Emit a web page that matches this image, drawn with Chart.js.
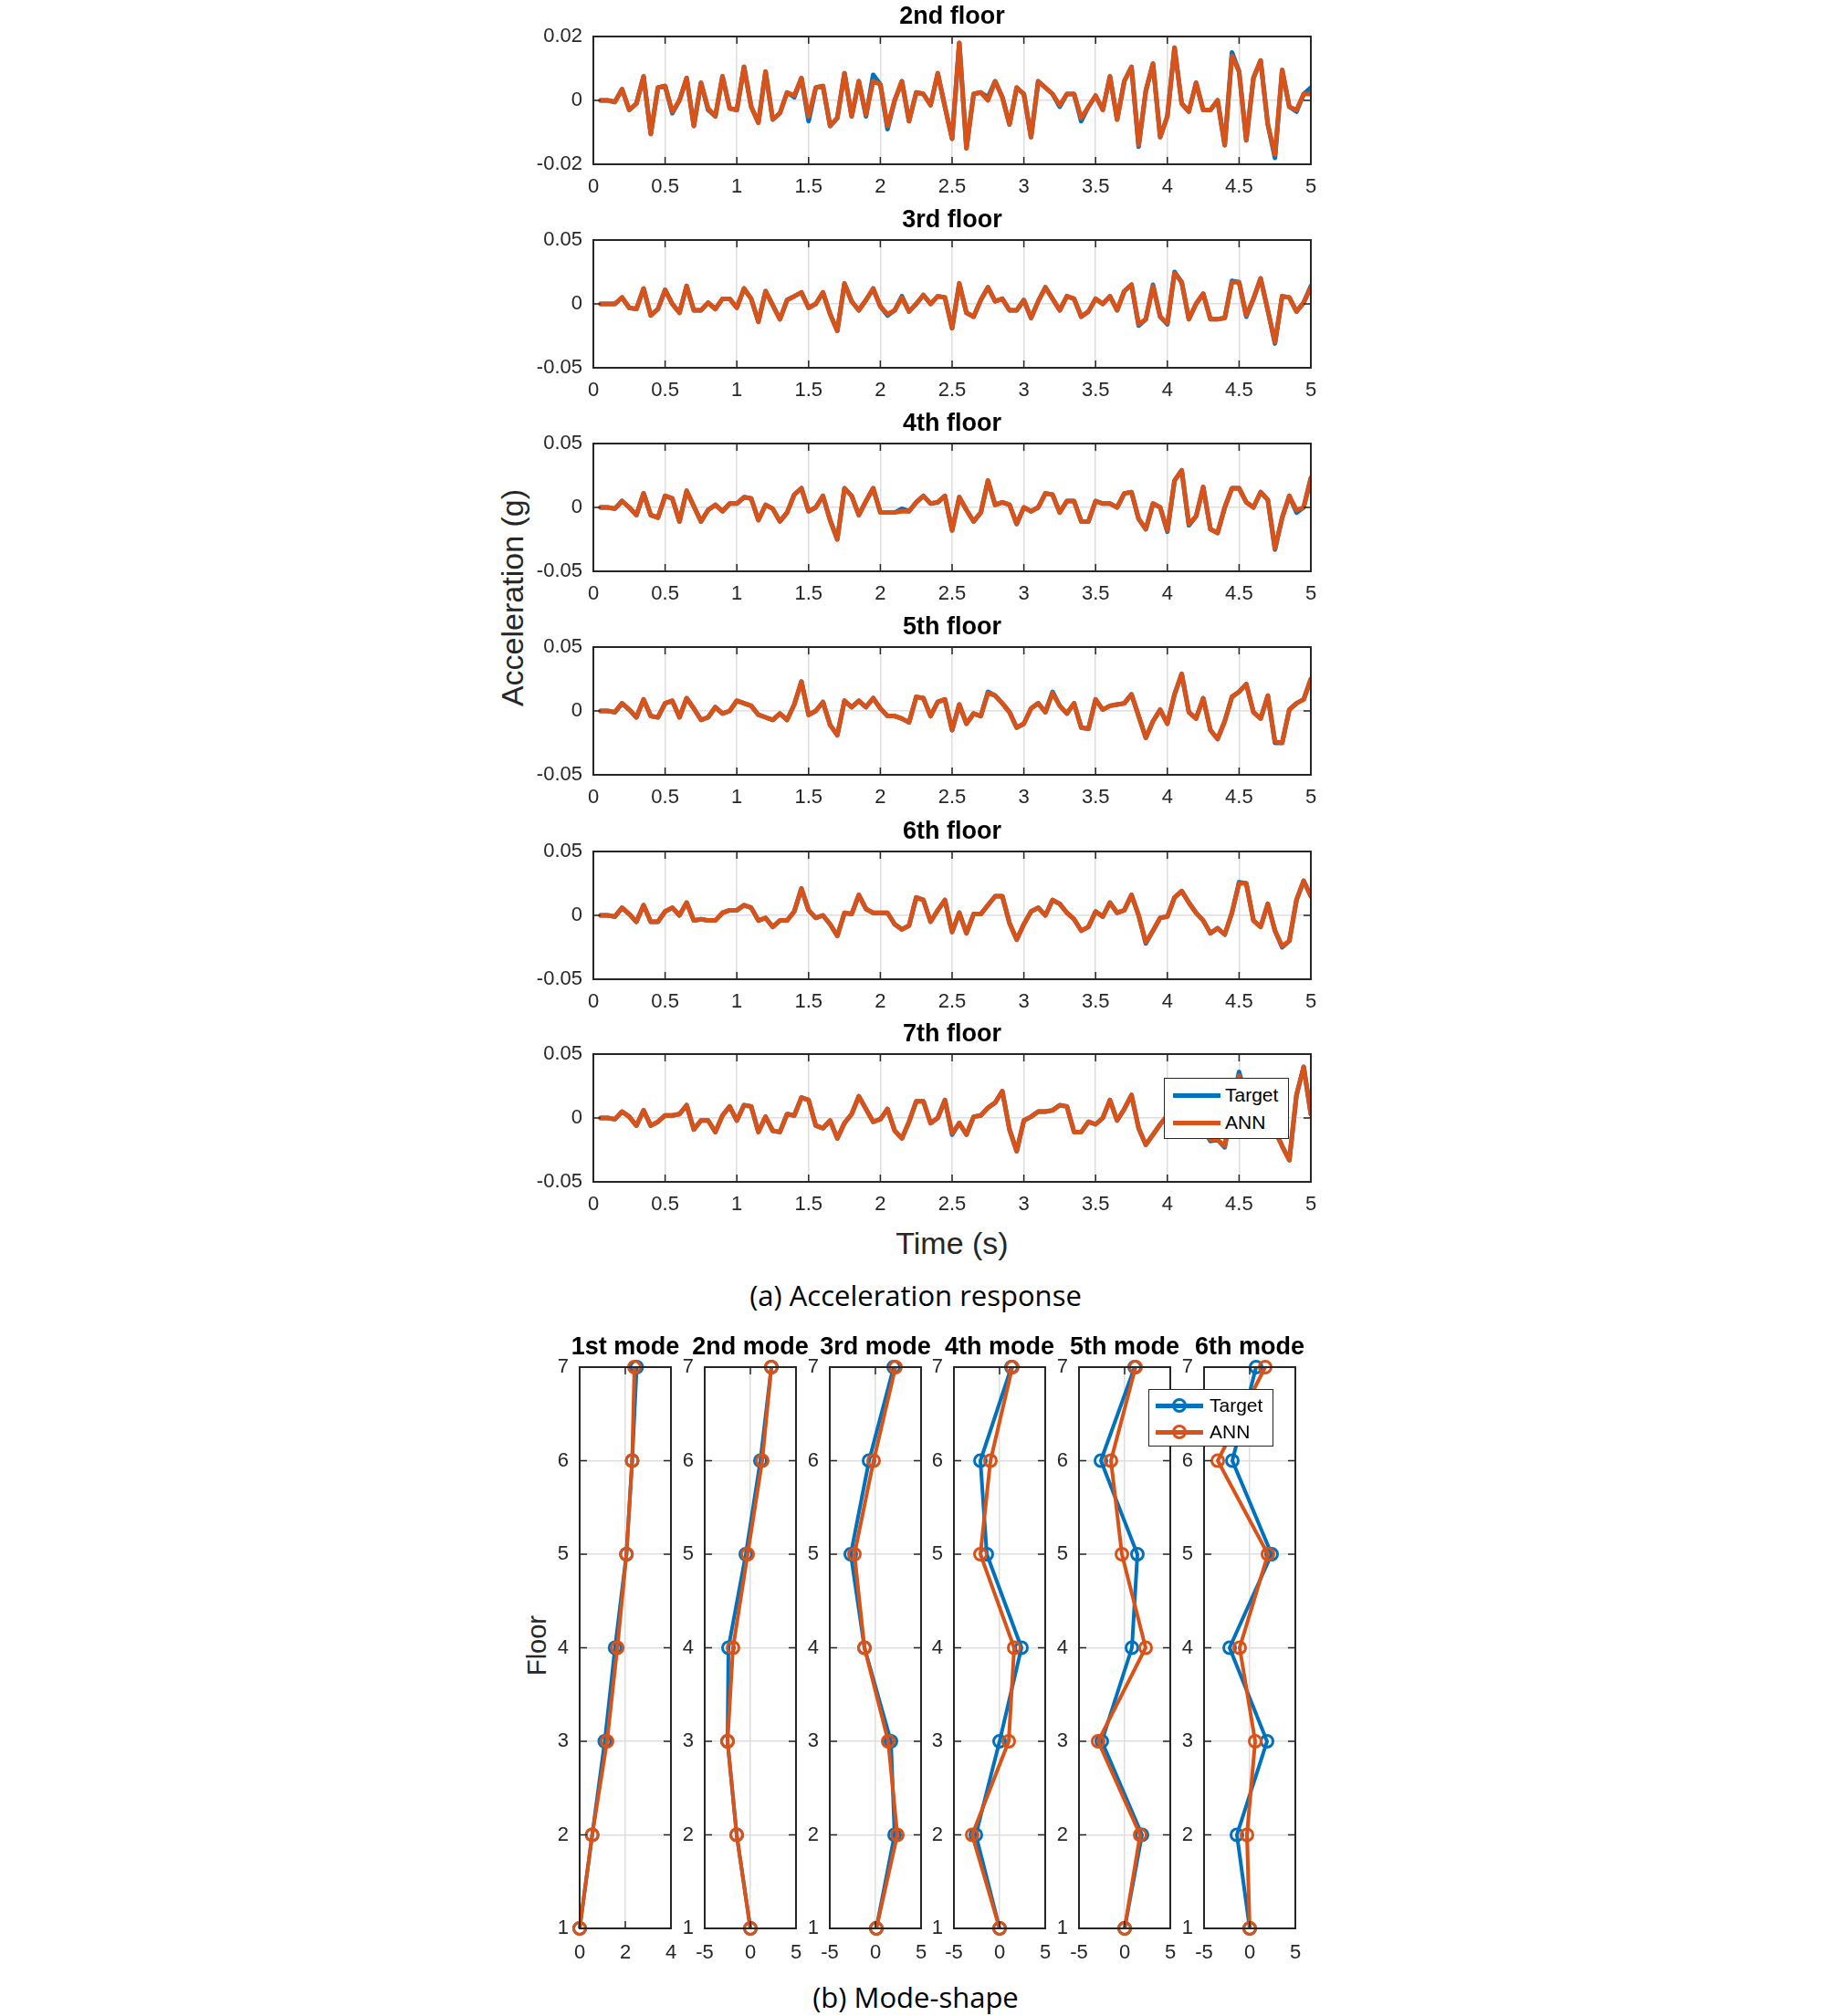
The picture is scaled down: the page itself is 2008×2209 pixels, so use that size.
<!DOCTYPE html>
<html>
<head>
<meta charset="utf-8">
<script src="https://cdn.jsdelivr.net/npm/chart.js@4.4.1/dist/chart.umd.min.js"></script>
<style>
  body { margin: 0; background: #fff; width: 2008px; height: 2209px; position: relative; overflow: hidden;
         font-family: "Liberation Sans", Arial, sans-serif; color: #262626; }
  canvas { position: absolute; }
  .t { position: absolute; white-space: nowrap; transform: translate(-50%, -50%); }
  .ttl { font-weight: bold; font-size: 27px; color: #000; }
  .lab { font-size: 34px; }
  .cap { font-family: "Open Sans", sans-serif; font-size: 31px; color: #000; }
  .legend { position: absolute; background: #fff; border: 1.5px solid #262626; box-sizing: border-box; }
  .lg-line { position: absolute; height: 4.5px; }
  .lg-mark { position: absolute; width: 10px; height: 10px; border-radius: 50%; border: 3px solid; }
  .lg-text { position: absolute; font-size: 21px; color: #000; transform: translateY(-50%); }
</style>
</head>
<body>

<div class="t lab" style="left:561px;top:655px;transform:translate(-50%,-50%) rotate(-90deg)">Acceleration (g)</div>
<div class="t lab" style="left:1043px;top:1362px">Time (s)</div>
<div class="t cap" style="left:1003px;top:1419px">(a) Acceleration response</div>
<div class="t lab" style="left:588px;top:1803px;font-size:29px;transform:translate(-50%,-50%) rotate(-90deg)">Floor</div>
<div class="t cap" style="left:1003px;top:2188px">(b) Mode-shape</div>

<script>
// sample times (s)
const timeS = [0.05,0.1,0.15,0.2,0.25,0.3,0.35,0.4,0.45,0.5,
  0.55,0.6,0.65,0.7,0.75,0.8,0.85,0.9,0.95,1,
  1.05,1.1,1.15,1.2,1.25,1.3,1.35,1.4,1.45,1.5,
  1.55,1.6,1.65,1.7,1.75,1.8,1.85,1.9,1.95,2,
  2.05,2.1,2.15,2.2,2.25,2.3,2.35,2.4,2.45,2.5,
  2.55,2.6,2.65,2.7,2.75,2.8,2.85,2.9,2.95,3,
  3.05,3.1,3.15,3.2,3.25,3.3,3.35,3.4,3.45,3.5,
  3.55,3.6,3.65,3.7,3.75,3.8,3.85,3.9,3.95,4,
  4.05,4.1,4.15,4.2,4.25,4.3,4.35,4.4,4.45,4.5,
  4.55,4.6,4.65,4.7,4.75,4.8,4.85,4.9,4.95,5];

const floorTitles = ['2nd floor', '3rd floor', '4th floor', '5th floor', '6th floor', '7th floor'];
const accLimits = [0.02, 0.05, 0.05, 0.05, 0.05, 0.05];

const target2nd = [0,0,-0.0005,0.0035,-0.003,-0.001,0.0075,-0.0105,0.004,0.0045,
  -0.004,0,0.007,-0.008,0.0055,-0.003,-0.005,0.0075,-0.0025,-0.003,
  0.0105,-0.002,-0.007,0.009,-0.006,-0.004,0.0025,0.001,0.007,-0.0065,
  0.004,0.0045,-0.008,-0.0055,0.0085,-0.005,0.006,-0.005,0.008,0.005,
  -0.009,0,0.006,-0.0065,0.0025,0.002,-0.0015,0.0085,-0.002,-0.012,
  0.018,-0.015,0.002,0.0025,0.001,0.006,0.001,-0.0075,0.004,0.002,
  -0.0115,0.006,0.004,0.002,-0.002,0.002,0.002,-0.0065,-0.002,0.0015,
  -0.003,0.0075,-0.006,0.006,0.0105,-0.0145,0.003,0.0115,-0.0115,-0.005,
  0.0165,-0.001,-0.0035,0.0055,-0.003,-0.003,0,-0.014,0.015,0.009,
  -0.0125,0.007,0.0125,-0.0075,-0.018,0.0095,-0.002,-0.0035,0.002,0.004];
const ann2nd = [0,0,-0.0005,0.0035,-0.003,-0.001,0.0075,-0.0105,0.004,0.0045,
  -0.0035,0,0.007,-0.008,0.0055,-0.0025,-0.005,0.0075,-0.0025,-0.003,
  0.0105,-0.002,-0.007,0.009,-0.006,-0.004,0.0025,0.0015,0.007,-0.005,
  0.004,0.0045,-0.008,-0.0055,0.0085,-0.005,0.006,-0.0045,0.006,0.005,
  -0.008,0,0.006,-0.0065,0.0025,0.002,-0.0015,0.0085,-0.002,-0.012,
  0.018,-0.015,0.002,0.0025,0,0.006,0.001,-0.0075,0.004,0.002,
  -0.0115,0.006,0.004,0.002,-0.0015,0.002,0.002,-0.0055,-0.002,0.0015,
  -0.003,0.0075,-0.006,0.006,0.0105,-0.014,0.003,0.0115,-0.0115,-0.005,
  0.0165,-0.001,-0.0035,0.0055,-0.003,-0.003,0,-0.014,0.014,0.009,
  -0.0125,0.007,0.0125,-0.0075,-0.017,0.0095,-0.002,-0.003,0.002,0.002];

const target3rd = [0,0,0,0.005,-0.003,-0.004,0.012,-0.009,-0.004,0.011,
  0,-0.007,0.014,-0.005,-0.005,0.001,-0.004,0.004,0.004,-0.003,
  0.012,0.004,-0.014,0.01,-0.001,-0.012,0.003,0.006,0.009,-0.003,
  0,0.009,-0.008,-0.021,0.016,0.002,-0.005,0.003,0.012,-0.002,
  -0.009,-0.005,0.006,-0.006,0,0.007,0,0.006,0.005,-0.019,
  0.016,-0.007,-0.01,0.003,0.013,0.002,0.004,-0.005,-0.005,0.003,
  -0.011,0.002,0.013,0.004,-0.005,0.006,0.004,-0.01,-0.006,0.004,
  0,0.006,-0.005,0.01,0.015,-0.017,-0.012,0.015,-0.01,-0.016,
  0.025,0.017,-0.012,0,0.008,-0.012,-0.012,-0.011,0.018,0.017,
  -0.01,0.004,0.02,-0.005,-0.031,0.006,0.005,-0.006,0.001,0.014];
const ann3rd = [0,0,0,0.005,-0.003,-0.004,0.012,-0.009,-0.004,0.011,
  0,-0.007,0.014,-0.005,-0.005,0.001,-0.004,0.004,0.004,-0.003,
  0.012,0.004,-0.014,0.01,-0.001,-0.012,0.003,0.006,0.009,-0.003,
  0,0.009,-0.008,-0.021,0.016,0.002,-0.005,0.003,0.012,-0.002,
  -0.008,-0.005,0.005,-0.006,0,0.007,0,0.006,0.005,-0.019,
  0.016,-0.007,-0.01,0.003,0.013,0.002,0.004,-0.005,-0.005,0.003,
  -0.011,0.002,0.013,0.004,-0.005,0.006,0.004,-0.01,-0.006,0.004,
  0,0.006,-0.005,0.01,0.015,-0.016,-0.012,0.014,-0.01,-0.015,
  0.024,0.017,-0.012,0,0.008,-0.012,-0.012,-0.011,0.017,0.017,
  -0.009,0.004,0.02,-0.005,-0.03,0.006,0.005,-0.006,0.001,0.013];

const target4th = [0,0,-0.001,0.005,0,-0.006,0.011,-0.006,-0.008,0.009,
  0.007,-0.011,0.013,0.001,-0.011,-0.002,0.002,-0.003,0.003,0.003,
  0.008,0.007,-0.01,0.002,-0.001,-0.011,-0.004,0.01,0.015,-0.003,
  0,0.009,-0.01,-0.025,0.015,0.009,-0.006,0.005,0.015,-0.004,
  -0.004,-0.004,-0.001,-0.003,0.004,0.009,0.003,0.004,0.009,-0.018,
  0.008,-0.002,-0.011,-0.004,0.021,0.002,0.004,0.002,-0.013,0,
  -0.003,0,0.011,0.01,-0.004,0.005,0.005,-0.011,-0.011,0.005,
  0.003,0.003,0,0.011,0.012,-0.009,-0.017,0.003,0,-0.019,
  0.021,0.029,-0.014,-0.007,0.016,-0.017,-0.02,0,0.015,0.015,
  0.004,0,0.012,0.006,-0.033,-0.008,0.009,-0.004,0,0.023];
const ann4th = [0,0,-0.001,0.005,0,-0.006,0.011,-0.006,-0.008,0.009,
  0.007,-0.011,0.013,0.001,-0.011,-0.002,0.002,-0.003,0.003,0.003,
  0.008,0.007,-0.01,0.002,-0.001,-0.011,-0.004,0.01,0.015,-0.003,
  0,0.009,-0.01,-0.025,0.015,0.009,-0.006,0.005,0.015,-0.004,
  -0.004,-0.004,-0.003,-0.003,0.004,0.009,0.003,0.004,0.009,-0.018,
  0.008,-0.002,-0.011,-0.004,0.021,0.002,0.004,0.002,-0.013,0,
  -0.003,0,0.011,0.01,-0.004,0.005,0.005,-0.011,-0.011,0.005,
  0.003,0.003,0,0.011,0.012,-0.009,-0.017,0.003,0,-0.018,
  0.021,0.029,-0.013,-0.007,0.016,-0.017,-0.02,0,0.015,0.015,
  0.004,0,0.012,0.006,-0.032,-0.008,0.009,-0.002,0,0.023];

const target5th = [0,0,-0.001,0.006,0.001,-0.005,0.009,-0.004,-0.005,0.006,
  0.008,-0.005,0.01,0.002,-0.007,-0.005,0.003,-0.002,0,0.008,
  0.006,0.004,-0.003,-0.005,-0.007,-0.002,-0.007,0.005,0.023,-0.003,
  0,0.007,-0.011,-0.019,0.008,0.003,0.008,0.003,0.01,0.002,
  -0.004,-0.004,-0.006,-0.009,0.011,0.01,-0.004,0.007,0.009,-0.015,
  0.005,-0.01,-0.002,-0.004,0.015,0.012,0.006,-0.001,-0.013,-0.01,
  0.002,0.006,-0.001,0.015,0.004,-0.002,0.006,-0.013,-0.014,0.009,
  0.001,0.004,0.005,0.006,0.013,-0.004,-0.021,-0.008,0.001,-0.01,
  0.013,0.029,-0.001,-0.006,0.01,-0.015,-0.022,-0.008,0.011,0.015,
  0.021,-0.001,-0.006,0.012,-0.025,-0.025,0.001,0.006,0.009,0.025];
const ann5th = [0,0,-0.001,0.006,0.001,-0.005,0.009,-0.004,-0.005,0.006,
  0.008,-0.005,0.01,0.002,-0.007,-0.005,0.003,-0.002,0,0.008,
  0.006,0.004,-0.003,-0.005,-0.007,-0.002,-0.007,0.005,0.023,-0.003,
  0,0.007,-0.011,-0.019,0.008,0.003,0.008,0.003,0.01,0.002,
  -0.004,-0.004,-0.006,-0.009,0.011,0.01,-0.004,0.007,0.009,-0.015,
  0.005,-0.01,-0.002,-0.004,0.014,0.012,0.006,-0.001,-0.013,-0.01,
  0.002,0.006,-0.001,0.014,0.004,-0.002,0.006,-0.013,-0.014,0.009,
  0.001,0.004,0.005,0.006,0.013,-0.004,-0.021,-0.008,0.001,-0.01,
  0.013,0.029,-0.001,-0.006,0.01,-0.015,-0.022,-0.008,0.011,0.015,
  0.021,-0.001,-0.006,0.012,-0.024,-0.025,0.001,0.006,0.009,0.025];

const target6th = [0,0,-0.001,0.006,0.001,-0.005,0.008,-0.005,-0.005,0.003,
  0.006,0,0.01,-0.004,-0.003,-0.004,-0.004,0.002,0.004,0.004,
  0.008,0.006,-0.004,-0.002,-0.009,-0.004,-0.004,0.003,0.021,0.004,
  -0.002,0,-0.007,-0.016,0.002,0.001,0.016,0.005,0.002,0.002,
  0.002,-0.007,-0.011,-0.008,0.014,0.012,-0.005,0.004,0.012,-0.013,
  0.002,-0.014,0.001,0.001,0.008,0.015,0.015,-0.006,-0.019,-0.007,
  0.003,0.006,0,0.012,0.009,0.002,-0.003,-0.012,-0.009,0.003,
  -0.001,0.01,0.002,0.004,0.016,0,-0.022,-0.012,-0.002,-0.001,
  0.014,0.019,0.01,0.002,-0.004,-0.014,-0.01,-0.015,0.002,0.026,
  0.025,-0.004,-0.009,0.009,-0.012,-0.025,-0.02,0.012,0.027,0.015];
const ann6th = [0,0,-0.001,0.006,0.001,-0.005,0.008,-0.005,-0.005,0.003,
  0.006,0,0.01,-0.004,-0.003,-0.004,-0.004,0.002,0.004,0.004,
  0.008,0.006,-0.004,-0.002,-0.009,-0.004,-0.004,0.003,0.021,0.004,
  -0.002,0,-0.007,-0.016,0.002,0.001,0.016,0.005,0.002,0.002,
  0.002,-0.007,-0.011,-0.008,0.014,0.012,-0.005,0.004,0.012,-0.013,
  0.002,-0.014,0.001,0.001,0.008,0.015,0.015,-0.006,-0.019,-0.007,
  0.003,0.006,0,0.012,0.009,0.002,-0.003,-0.012,-0.009,0.003,
  -0.001,0.01,0.002,0.004,0.016,0,-0.021,-0.012,-0.002,-0.001,
  0.014,0.019,0.01,0.002,-0.004,-0.014,-0.01,-0.015,0.002,0.025,
  0.025,-0.004,-0.009,0.009,-0.012,-0.024,-0.02,0.012,0.027,0.015];

const target7th = [0,0,-0.001,0.005,0.001,-0.006,0.006,-0.006,-0.003,0.002,
  0.002,0.003,0.01,-0.009,-0.002,-0.002,-0.011,0.002,0.009,-0.002,
  0.01,0.009,-0.011,0.001,-0.01,-0.011,0.003,0.002,0.016,0.014,
  -0.006,-0.008,-0.002,-0.016,-0.004,0.003,0.017,0.007,-0.003,-0.001,
  0.007,-0.01,-0.016,-0.003,0.013,0.013,-0.004,0,0.014,-0.013,
  -0.004,-0.013,0.001,0.002,0.008,0.012,0.021,-0.009,-0.026,-0.002,
  0.001,0.005,0.005,0.006,0.01,0.009,-0.011,-0.011,-0.003,-0.005,
  0,0.014,-0.002,0.007,0.018,-0.008,-0.021,-0.013,-0.005,0.002,
  0.01,0.006,-0.005,0.004,-0.008,-0.018,-0.017,-0.023,0.01,0.036,
  0.015,-0.005,0.008,-0.005,-0.01,-0.022,-0.033,0.018,0.04,0.003];
const ann7th = [0,0,-0.001,0.005,0.001,-0.006,0.006,-0.006,-0.003,0.002,
  0.002,0.003,0.01,-0.009,-0.002,-0.002,-0.011,0.002,0.009,-0.002,
  0.01,0.009,-0.011,0.001,-0.01,-0.011,0.003,0.002,0.016,0.014,
  -0.006,-0.008,-0.002,-0.016,-0.004,0.003,0.017,0.007,-0.003,-0.001,
  0.007,-0.01,-0.016,-0.003,0.013,0.013,-0.004,0,0.014,-0.012,
  -0.004,-0.013,0.001,0.002,0.008,0.012,0.021,-0.009,-0.026,-0.002,
  0.001,0.005,0.005,0.006,0.01,0.009,-0.011,-0.011,-0.003,-0.005,
  0,0.014,-0.002,0.007,0.018,-0.008,-0.021,-0.013,-0.005,0.002,
  0.01,0.006,-0.005,0.004,-0.008,-0.017,-0.017,-0.022,0.01,0.033,
  0.015,-0.005,0.008,-0.005,-0.01,-0.022,-0.033,0.018,0.04,0.003];

// mode shapes, floors 1..7
const floorLevels = [1, 2, 3, 4, 5, 6, 7];
const modeTitles = ['1st mode', '2nd mode', '3rd mode', '4th mode', '5th mode', '6th mode'];
const modeTarget1 = [0, 0.55, 1.1, 1.55, 2.05, 2.3, 2.5];
const modeAnn1    = [0, 0.55, 1.2, 1.65, 2.05, 2.3, 2.4];
const modeTarget2 = [0, -1.5, -2.5, -2.4, -0.5, 1.1, 2.3];
const modeAnn2    = [0, -1.5, -2.5, -1.9, -0.3, 1.3, 2.3];
const modeTarget3 = [0.1, 2.1, 1.7, -1.2, -2.7, -0.7, 2.0];
const modeAnn3    = [0.1, 2.4, 1.4, -1.2, -2.3, -0.2, 2.2];
const modeTarget4 = [0, -2.6, 0.0, 2.4, -1.4, -2.1, 1.3];
const modeAnn4    = [0, -3.0, 1.0, 1.6, -2.1, -1.0, 1.4];
const modeTarget5 = [0, 1.9, -2.5, 0.8, 1.4, -2.6, 1.1];
const modeAnn5    = [0, 1.7, -2.9, 2.3, -0.3, -1.5, 1.2];
const modeTarget6 = [0, -1.4, 1.9, -2.2, 2.4, -1.9, 0.7];
const modeAnn6    = [0, -0.3, 0.6, -1.1, 2.0, -3.5, 1.7];

const BLUE = '#0072BD';
const ORANGE = '#D95319';
const GRID = '#dedede';
const AXIS = '#262626';
const tickFont = { family: '"Liberation Sans", Arial, sans-serif', size: 22 };

// MATLAB style box with inward ticks
const boxPlugin = {
  id: 'box',
  afterDraw(chart) {
    const { ctx, chartArea: a, scales: { x, y } } = chart;
    const L = 8;
    ctx.save();
    ctx.strokeStyle = AXIS;
    ctx.lineWidth = 1.5;
    ctx.beginPath();
    x.ticks.forEach(t => {
      const p = x.getPixelForValue(t.value);
      ctx.moveTo(p, a.top); ctx.lineTo(p, a.top + L);
      ctx.moveTo(p, a.bottom); ctx.lineTo(p, a.bottom - L);
    });
    y.ticks.forEach(t => {
      const p = y.getPixelForValue(t.value);
      ctx.moveTo(a.left, p); ctx.lineTo(a.left + L, p);
      ctx.moveTo(a.right, p); ctx.lineTo(a.right - L, p);
    });
    ctx.stroke();
    ctx.lineWidth = 2;
    ctx.strokeRect(a.left, a.top, a.right - a.left, a.bottom - a.top);
    ctx.restore();
  }
};

function addCanvas(left, top, w, h) {
  const c = document.createElement('canvas');
  c.width = w; c.height = h;
  c.style.left = left + 'px'; c.style.top = top + 'px';
  c.style.width = w + 'px'; c.style.height = h + 'px';
  document.body.appendChild(c);
  return c;
}

function addText(cls, text, x, y) {
  const d = document.createElement('div');
  d.className = 't ' + cls;
  d.textContent = text;
  d.style.left = x + 'px'; d.style.top = y + 'px';
  document.body.appendChild(d);
}

const plainNum = v => String(Math.round(v * 1000) / 1000);

function axisOpts(min, max, step, fixed, pad) {
  return {
    type: 'linear', min, max,
    afterFit: fixed,
    ticks: { stepSize: step, padding: pad, font: tickFont, color: AXIS, maxRotation: 0, callback: plainNum },
    grid: { color: GRID, lineWidth: 1.5, drawTicks: false },
    border: { display: false }
  };
}

// acceleration panels
const accTargets = [target2nd, target3rd, target4th, target5th, target6th, target7th];
const accAnns = [ann2nd, ann3rd, ann4th, ann5th, ann6th, ann7th];
const accTops = [40, 263, 486, 709, 933, 1155];
const accLeft = 650, accRight = 1436, accH = 140;

accTops.forEach((top, i) => {
  const yW = 90, xH = 44, padT = 32, padR = 32;
  const cv = addCanvas(accLeft - yW, top - padT, yW + (accRight - accLeft) + padR, padT + accH + xH);
  const lim = accLimits[i];
  new Chart(cv, {
    type: 'line',
    data: {
      datasets: [
        { label: 'Target', data: timeS.map((t, k) => ({ x: t, y: accTargets[i][k] })),
          borderColor: BLUE, borderWidth: 5, pointRadius: 0, order: 2,
          borderJoinStyle: 'round', borderCapStyle: 'round', tension: 0 },
        { label: 'ANN', data: timeS.map((t, k) => ({ x: t, y: accAnns[i][k] })),
          borderColor: ORANGE, borderWidth: 5, pointRadius: 0, order: 1,
          borderJoinStyle: 'round', borderCapStyle: 'round', tension: 0 }
      ]
    },
    options: {
      responsive: false, animation: false, devicePixelRatio: 1,
      layout: { padding: { top: padT, right: padR, left: 0, bottom: 0 } },
      plugins: { legend: { display: false }, tooltip: { enabled: false } },
      scales: {
        x: axisOpts(0, 5, 0.5, s => { s.height = xH; }, 12),
        y: axisOpts(-lim, lim, lim, s => { s.width = yW; }, 12)
      }
    },
    plugins: [boxPlugin]
  });
  addText('ttl', floorTitles[i], (accLeft + accRight) / 2, top - 23);
});

// mode shape panels
const modeTargets = [modeTarget1, modeTarget2, modeTarget3, modeTarget4, modeTarget5, modeTarget6];
const modeAnns = [modeAnn1, modeAnn2, modeAnn3, modeAnn4, modeAnn5, modeAnn6];
const modeLefts = [635, 772, 909, 1045, 1182, 1319];
const modeW = 100, modeTop = 1498, modeH = 615;

modeLefts.forEach((left, i) => {
  const yW = 55, xH = 48, padT = 32, padR = 32;
  const cv = addCanvas(left - yW, modeTop - padT, yW + modeW + padR, padT + modeH + xH);
  const xr = i === 0 ? [0, 4, 2] : [-5, 5, 5];
  const mk = (vals, color, ord, label) => ({
    label, data: floorLevels.map((f, k) => ({ x: vals[k], y: f })),
    showLine: true, borderColor: color, borderWidth: 4, order: ord, clip: false,
    pointStyle: 'circle', pointRadius: 6.5, pointBorderWidth: 3,
    pointBorderColor: color, pointBackgroundColor: 'rgba(0,0,0,0)', tension: 0
  });
  new Chart(cv, {
    type: 'scatter',
    data: { datasets: [mk(modeTargets[i], BLUE, 2, 'Target'), mk(modeAnns[i], ORANGE, 1, 'ANN')] },
    options: {
      responsive: false, animation: false, devicePixelRatio: 1,
      layout: { padding: { top: padT, right: padR, left: 0, bottom: 0 } },
      plugins: { legend: { display: false }, tooltip: { enabled: false } },
      scales: {
        x: axisOpts(xr[0], xr[1], xr[2], s => { s.height = xH; }, 14),
        y: axisOpts(1, 7, 1, s => { s.width = yW; }, 12)
      }
    },
    plugins: [boxPlugin]
  });
  addText('ttl', modeTitles[i], left + modeW / 2, modeTop - 23);
});

// legends
function addLegend(x, y, w, h, rows, withMarker) {
  const box = document.createElement('div');
  box.className = 'legend';
  box.style.cssText = `left:${x}px;top:${y}px;width:${w}px;height:${h}px`;
  document.body.appendChild(box);
  rows.forEach(r => {
    const ln = document.createElement('div');
    ln.className = 'lg-line';
    ln.style.cssText = `left:${r.lx - x}px;top:${r.y - y - 2}px;width:${r.lw}px;background:${r.color}`;
    box.appendChild(ln);
    if (withMarker) {
      const m = document.createElement('div');
      m.className = 'lg-mark';
      m.style.cssText = `left:${r.lx - x + r.lw / 2 - 8}px;top:${r.y - y - 8}px;border-color:${r.color}`;
      box.appendChild(m);
    }
    const tx = document.createElement('div');
    tx.className = 'lg-text';
    tx.textContent = r.text;
    tx.style.cssText = `left:${r.tx - x}px;top:${r.y - y}px`;
    box.appendChild(tx);
  });
}
addLegend(1275, 1181, 137, 67, [
  { text: 'Target', color: BLUE, y: 1199, lx: 1284, lw: 52, tx: 1341 },
  { text: 'ANN', color: ORANGE, y: 1229, lx: 1284, lw: 52, tx: 1341 }
], false);
addLegend(1258, 1522, 137, 63, [
  { text: 'Target', color: BLUE, y: 1539, lx: 1265, lw: 52, tx: 1324 },
  { text: 'ANN', color: ORANGE, y: 1568, lx: 1265, lw: 52, tx: 1324 }
], true);
</script>
</body>
</html>
